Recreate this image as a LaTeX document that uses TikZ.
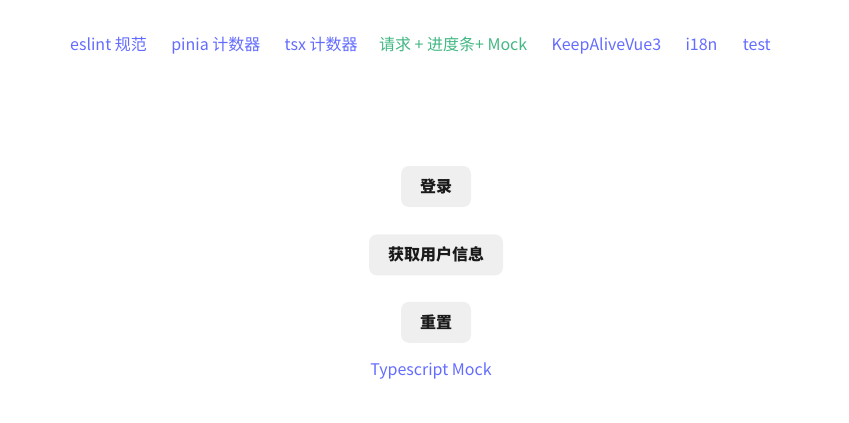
\documentclass[tikz,border=0pt]{standalone}
\usepackage{fontspec}
\setmainfont{Noto Sans CJK SC}
\usetikzlibrary{positioning}
\definecolor{linkblue}{HTML}{646CFF}
\definecolor{vuegreen}{HTML}{42B883}
\definecolor{btnfill}{HTML}{EFEFEF}
\definecolor{btntext}{HTML}{1A1A1A}
\begin{document}
\begin{tikzpicture}[
    x=1pt, y=-1pt,
    node distance=24pt,
    every node/.style={inner sep=0pt, font=\fontsize{16}{19}\selectfont},
    navlink/.style={text=linkblue, anchor=base west},
    navactive/.style={text=vuegreen, anchor=base west},
    btn/.style={
        fill=btnfill, rounded corners=8pt, inner xsep=19pt,
        minimum height=41pt, text=btntext,
        font=\fontsize{16}{19}\selectfont\bfseries
    }
]
    \useasboundingbox (0,0) rectangle (849,423);
    % top links
    \node[navlink] (eslint) at (70,50) {eslint 规范};
    \node[navlink, base right=of eslint] (pinia) {pinia 计数器};
    \node[navlink, base right=of pinia] (tsx) {tsx 计数器};
    \node[navactive, base right=21pt of tsx] (mock) {请求 + 进度条+ Mock};
    \node[navlink, base right=of mock] (keep) {KeepAliveVue3};
    \node[navlink, base right=of keep] (i18n) {i18n};
    \node[navlink, base right=25pt of i18n] (test) {test};
    % buttons
    \node[btn] (login) at (436,186.5) {登录};
    \node[btn, below=27pt of login] (userinfo) {获取用户信息};
    \node[btn, below=26pt of userinfo] (reset) {重置};
    \node[text=linkblue, anchor=center] (tsmock) at (431,371) {Typescript Mock};
\end{tikzpicture}
\end{document}
